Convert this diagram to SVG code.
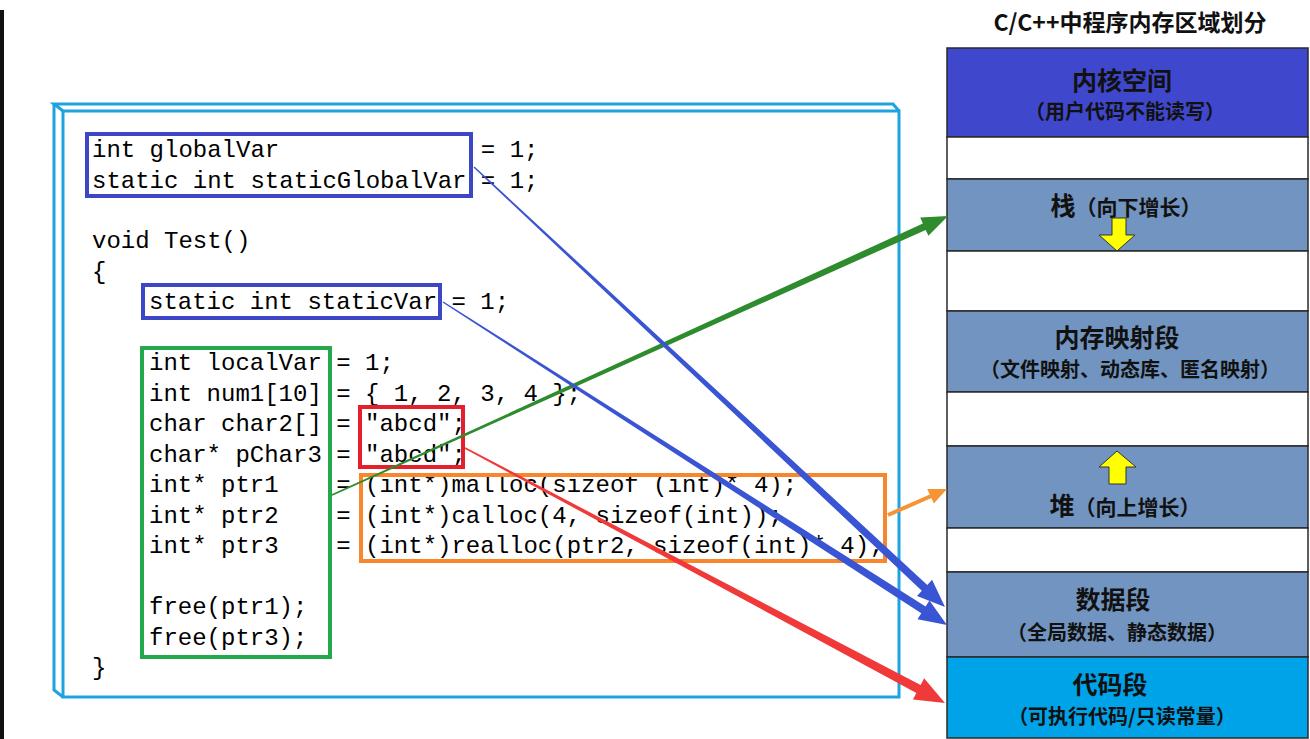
<svg xmlns="http://www.w3.org/2000/svg" width="1310" height="739" viewBox="0 0 1310 739">
<style>
.code{font-family:"Liberation Mono","DejaVu Sans Mono",monospace;font-size:24px;fill:#000;white-space:pre}
.cjk{font-family:"Noto Sans CJK SC","Noto Sans",sans-serif;font-weight:bold;fill:#111;text-anchor:middle}
.blk{stroke:#2a2a2a;stroke-width:1.5}
.frame{fill:none;stroke:#1CA3E0;stroke-width:3}
.box{fill:none;stroke-width:4}
.fillB{fill:#7195C0}
.yarrow{fill:#FFFF00;stroke:#333;stroke-width:1}
</style>
<rect x="0" y="0" width="1310" height="739" fill="#fff"/>
<rect x="0" y="10" width="4" height="729" fill="#111"/>

<g id="frame">
  <rect class="frame" x="63" y="111" width="836" height="586" fill="#fff"/>
  <polyline class="frame" points="63,111 54,104 893,104 899,111"/>
  <polyline class="frame" points="54,104 54,690 63,697"/>
</g>

<g id="code">
  <text class="code" x="92" y="157">int globalVar              = 1;</text>
  <text class="code" x="92" y="188">static int staticGlobalVar = 1;</text>
  <text class="code" x="92" y="248">void Test()</text>
  <text class="code" x="92" y="279">{</text>
  <text class="code" x="149" y="309">static int staticVar = 1;</text>
  <text class="code" x="149" y="370">int localVar = 1;</text>
  <text class="code" x="149" y="401">int num1[10] = { 1, 2, 3, 4 };</text>
  <text class="code" x="149" y="431">char char2[] = "abcd";</text>
  <text class="code" x="149" y="462">char* pChar3 = "abcd";</text>
  <text class="code" x="149" y="492">int* ptr1    = (int*)malloc(sizeof (int)* 4);</text>
  <text class="code" x="149" y="523">int* ptr2    = (int*)calloc(4, sizeof(int));</text>
  <text class="code" x="149" y="553">int* ptr3    = (int*)realloc(ptr2, sizeof(int)* 4);</text>
  <text class="code" x="149" y="614">free(ptr1);</text>
  <text class="code" x="149" y="645">free(ptr3);</text>
  <text class="code" x="92" y="675">}</text>
</g>

<g id="box-global"><rect class="box" x="87" y="134" width="384" height="62" stroke="#3D47C6"/></g>
<g id="box-staticvar"><rect class="box" x="143" y="285" width="297" height="33" stroke="#3D47C6"/></g>
<g id="box-local"><rect class="box" x="142" y="348" width="188" height="309" stroke="#24A84B"/></g>
<g id="box-literal"><rect class="box" x="360" y="407" width="103" height="60" stroke="#E3202B"/></g>
<g id="box-heap"><rect class="box" x="361" y="475" width="524" height="86" stroke="#F7862D"/></g>

<text class="cjk" x="1130" y="31" font-size="23">C/C++中程序内存区域划分</text>

<g id="mem-kernel">
  <rect class="blk" x="947" y="48" width="361" height="89" fill="#3F48CC"/>
  <text class="cjk" x="1122" y="90" font-size="25">内核空间</text>
  <text class="cjk" x="1125" y="119" font-size="20">（用户代码不能读写）</text>
</g>
<g id="mem-gap1"><rect class="blk" x="947" y="137" width="361" height="42" fill="#fff"/></g>
<g id="mem-stack">
  <rect class="blk fillB" x="947" y="179" width="361" height="72"/>
  <text class="cjk" x="1126" y="215" font-size="21"><tspan font-size="25">栈</tspan>（向下增长）</text>
  <polygon class="yarrow" points="1112,218 1126,218 1126,235 1135,235 1117,251 1099,235 1112,235"/>
</g>
<g id="mem-gap2"><rect class="blk" x="947" y="251" width="361" height="60" fill="#fff"/></g>
<g id="mem-mmap">
  <rect class="blk fillB" x="947" y="311" width="361" height="81"/>
  <text class="cjk" x="1117" y="347" font-size="25">内存映射段</text>
  <text class="cjk" x="1130" y="377" font-size="20">（文件映射、动态库、匿名映射）</text>
</g>
<g id="mem-gap3"><rect class="blk" x="947" y="392" width="361" height="54" fill="#fff"/></g>
<g id="mem-heap">
  <rect class="blk fillB" x="947" y="446" width="361" height="82"/>
  <polygon class="yarrow" points="1117,451 1136,467 1126,467 1126,484 1109,484 1109,467 1099,467"/>
  <text class="cjk" x="1125" y="515" font-size="21"><tspan font-size="25">堆</tspan>（向上增长）</text>
</g>
<g id="mem-gap4"><rect class="blk" x="947" y="528" width="361" height="44" fill="#fff"/></g>
<g id="mem-data">
  <rect class="blk fillB" x="947" y="572" width="361" height="85"/>
  <text class="cjk" x="1113" y="609" font-size="25">数据段</text>
  <text class="cjk" x="1117" y="640" font-size="20">（全局数据、静态数据）</text>
</g>
<g id="mem-code">
  <rect class="blk" x="947" y="657" width="361" height="81" fill="#00A2E8"/>
  <text class="cjk" x="1110" y="694" font-size="25">代码段</text>
  <text class="cjk" x="1122" y="724" font-size="20">（可执行代码/只读常量）</text>
</g>

<g id="connectors">
  <polygon fill="#2E8B2E" points="332.3,495.7 925.7,229.9 928.4,235.8 948,216 920.2,217.6 922.9,223.5 331.7,494.3"/>
  <polygon fill="#3A55D4" points="473.5,167.5 921.8,590.8 917.0,595.9 945,607 932.1,579.8 927.3,585.0 474.5,166.5"/>
  <polygon fill="#3A55D4" points="442.6,302.6 921.3,613.3 917.5,619.2 947,625 929.4,600.6 925.6,606.5 443.4,301.4"/>
  <polygon fill="#F03A3A" points="464.6,448.7 916.4,692.9 912.9,699.5 945,703 924.1,678.3 920.6,685.0 465.4,447.3"/>
  <polygon fill="#F59335" points="888.8,516.8 931.4,498.1 933.8,503.6 947,489 927.3,488.9 929.7,494.4 887.2,513.2"/>
</g>
</svg>
